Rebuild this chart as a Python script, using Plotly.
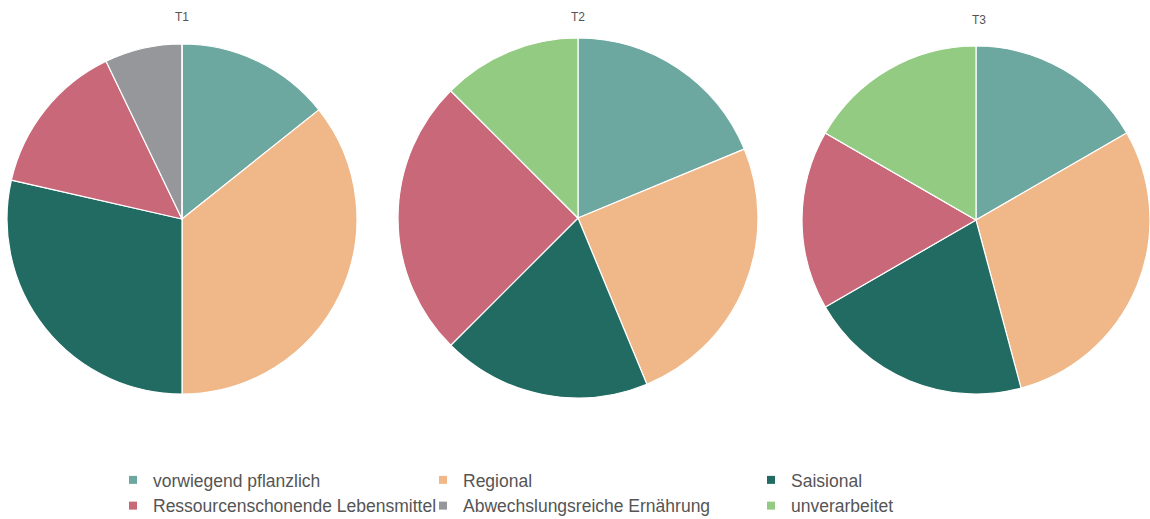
import plotly.graph_objects as go

labels = ["vorwiegend pflanzlich", "Regional", "Saisional",
          "Ressourcenschonende Lebensmittel", "Abwechslungsreiche Ernährung", "unverarbeitet"]
colors = ["#6CA8A0", "#F0B888", "#226B63", "#C96878", "#96979B", "#94CB82"]
t1_values = [2, 5, 4, 2, 1, 0]
t2_values = [3, 4, 3, 4, 0, 2]
t3_values = [4, 7, 5, 4, 0, 4]
titles = ["T1", "T2", "T3"]

W, H = 1150, 519

def dom(cx, cy, r):
    return dict(x=[(cx - r) / W, min((cx + r) / W, 1)],
                y=[(H - cy - r) / H, (H - cy + r) / H])

pies = [(t1_values, dom(182, 219, 175)),
        (t2_values, dom(578, 218, 180)),
        (t3_values, dom(976, 220, 174))]

fig = go.Figure()
for vals, d in pies:
    fig.add_trace(go.Pie(labels=labels, values=vals, domain=d, sort=False,
                         direction="clockwise", rotation=0, textinfo="none",
                         marker=dict(colors=colors, line=dict(color="white", width=1.2)),
                         showlegend=False))

legend_of = ["legend", "legend2", "legend3", "legend", "legend2", "legend3"]
for lab, col, lg in zip(labels, colors, legend_of):
    fig.add_trace(go.Scatter(x=[None], y=[None], mode="markers", name=lab,
                             marker=dict(symbol="square", size=8, color=col),
                             legend=lg, showlegend=True))

for t, cx, cy in zip(titles, [182, 578, 979], [17, 17, 20]):
    fig.add_annotation(text=t, x=cx / W, y=1 - cy / H, xref="paper", yref="paper",
                       showarrow=False, font=dict(size=12, color="#555555"),
                       xanchor="center", yanchor="middle")

leg_font = dict(family="Liberation Sans, Arial, sans-serif", size=17.5, color="#555555")
common = dict(orientation="v", xanchor="left", yanchor="top", y=1 - 462 / H,
              font=leg_font, bgcolor="rgba(0,0,0,0)", itemwidth=30, tracegroupgap=0)
fig.update_layout(
    width=W, height=H, margin=dict(l=0, r=0, t=0, b=0, autoexpand=False),
    paper_bgcolor="white", plot_bgcolor="white",
    font=dict(family="Liberation Sans, Arial, sans-serif", color="#555555"),
    xaxis=dict(visible=False), yaxis=dict(visible=False),
    legend=dict(x=113 / W, **common),
    legend2=dict(x=423 / W, **common),
    legend3=dict(x=751 / W, **common),
)

fig.write_html("out.html")
